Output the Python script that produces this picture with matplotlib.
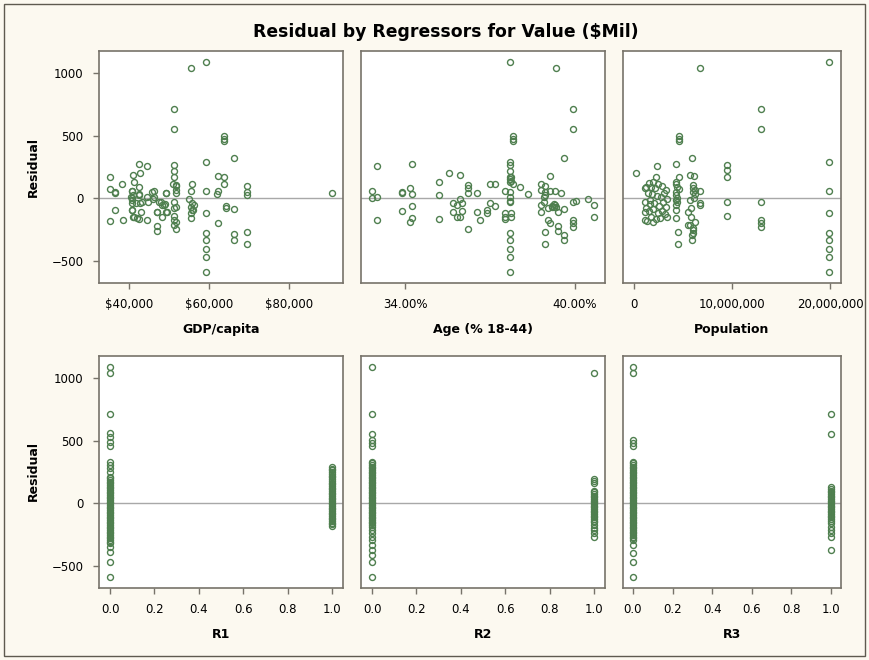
import matplotlib.pyplot as plt
from matplotlib.patches import Rectangle
from matplotlib.ticker import FuncFormatter

# GDP/capita ($) vs residual
gdp = [59200, 55400, 51300, 51300, 63700, 63700, 63700, 66300, 59200, 42400, 44500, 51300, 51300, 51300,
       35300, 41100, 42800, 62300, 63700, 63700, 41300, 38300, 35300, 36500, 36600, 42400, 40700, 41100,
       42600, 46200, 49300, 50900, 51800, 51800, 51800, 55800, 55500, 59200, 62300, 61900, 69500, 69500,
       69500, 90800, 44400, 40700, 40700, 42800, 44700, 46100, 47600, 48200, 49000, 51300, 51300, 51800,
       55000, 55700, 55500, 56100, 55500, 55500, 64300, 64300, 66300, 59200, 36500, 40700, 43000, 46900,
       49300, 48200, 41100, 42400, 44500, 51300, 51300, 51800, 51300, 51800, 35300, 38600, 62300, 46900,
       46900, 59200, 59200, 59200, 59200, 59200, 66300, 66300, 69500, 69500,
       40800, 41700, 40800, 41300, 42100, 42500, 43300, 45800, 46300, 47100, 47900, 48800, 49200, 49600,
       51700, 55800, 56300, 40400, 40700]
gdp_res = [1085, 1043, 712, 549, 496, 475, 459, 320, 285, 275, 253, 261, 219, 171,
           165, 187, 197, 176, 165, 109, 128, 109, 75, 51, 40, 88, 56, 24,
           32, 56, 40, 112, 96, 64, 37, 109, 59, 53, 59, 32, 99, 51,
           24, 43, 11, -2, -43, -43, -29, -11, -29, -56, -48, -35, -83, -69,
           -11, -43, -69, -96, -123, -163, -61, -83, -88, -120, -99, -99, -109, -109,
           -109, -155, -155, -165, -176, -141, -179, -189, -216, -251, -187, -176, -197, -221,
           -264, -283, -339, -408, -472, -595, -291, -339, -275, -371,
           -16, -43, -96, -149, -163, 24, -29, 51, 11, -109, -29, -56, 37, -109,
           104, -96, -56, 11, 59]

# Age (% 18-44) vs residual
age = [37.72, 39.32, 39.94, 39.94, 37.81, 37.81, 37.81, 39.60, 37.72, 33.02, 34.24, 35.54, 35.93, 35.20,
       37.72, 37.72, 37.72, 37.76, 39.13, 32.83, 32.83, 33.02, 33.89, 33.89, 34.19, 34.25, 35.20, 36.21,
       36.21, 36.21, 36.56, 37.01, 37.18, 37.53, 37.72, 37.72, 37.81, 38.06, 38.34, 38.79, 38.94, 38.79,
       38.94, 38.94, 39.13, 39.30, 39.52, 38.89, 38.89, 40.47, 40.04, 39.94, 40.67, 40.67, 35.68, 35.82,
       36.02, 35.94, 35.68, 36.02, 35.82, 35.94, 36.56, 36.65, 36.91, 36.91, 36.99, 37.19, 36.22, 37.53,
       37.53, 37.53, 37.76, 37.76, 37.72, 37.72, 33.89, 34.25, 34.25, 34.19, 33.02, 35.20, 37.72, 37.72,
       37.72, 37.72, 37.72, 38.79, 38.79, 39.06, 39.27, 39.34, 39.41, 39.60, 39.06, 39.13, 39.41, 39.41,
       39.60, 39.60, 38.93, 38.93, 39.94, 39.94, 39.94,
       39.20, 39.25, 39.30, 39.20, 37.72, 37.75, 37.70]
age_res = [1085, 1043, 712, 549, 496, 475, 459, 320, 285, 253, 275, 197, 187, 131,
           261, 219, 171, 165, 176, 59, 3, 11, 51, 43, 77, 32, 21, 104,
           77, 43, 43, 109, 109, 59, 51, 11, 109, 88, 32, 109, 96, 64,
           51, 24, 59, 59, 43, 11, -29, -11, -24, -35, -56, -155, -43, -56,
           -43, -11, -109, -101, -155, -155, -109, -176, -96, -123, -43, -64, -251, -123,
           -149, -168, -123, -149, -35, -24, -101, -64, -163, -189, -176, -168, -283, -339,
           -408, -472, -595, -56, -112, -83, -48, -69, -115, -91, -176, -197, -221, -264,
           -296, -339, -275, -371, -176, -197, -229,
           -60, -70, -55, -75, 150, 140, 130]

# Population (millions) vs residual
pop = [19.83, 6.70, 12.99, 12.99, 4.59, 4.59, 4.59, 5.88, 19.83, 2.38, 4.32, 0.27, 9.49, 9.49,
       9.49, 5.71, 6.16, 4.59, 19.83, 9.49, 9.49, 12.99, 12.99, 12.99, 12.99, 19.83, 19.83, 19.83,
       19.83, 19.83, 19.83, 4.49, 4.49, 5.88, 5.88, 5.70, 6.00,
       2.21, 1.26, 1.09, 1.60, 1.09, 1.26, 1.09, 1.09, 3.30, 4.40, 4.32, 4.32, 4.32, 4.32, 4.32, 4.32,
       6.00, 6.00, 6.00, 6.20, 6.70, 6.76, 6.76, 5.68, 5.85, 5.50, 5.85, 6.20, 5.50, 6.00, 6.00,
       1.5, 2.0, 2.5, 1.8, 2.2, 2.9, 3.1, 1.4, 1.9, 2.4, 2.8, 3.4, 1.6, 2.1, 2.6, 3.0, 3.3, 1.5,
       2.0, 2.5, 2.9, 3.2, 1.8, 2.3, 2.7, 3.4, 1.3, 2.0, 4.3, 4.3, 4.4, 4.4, 4.6, 6.1, 6.2]
pop_res = [1085, 1043, 712, 549, 496, 475, 459, 320, 285, 253, 275, 197, 264, 224,
           165, 187, 176, 165, 56, -35, -144, -35, -176, -197, -229, -123, -283, -339,
           -408, -472, -595, -275, -371, -296, -339, -216, -256,
           171, 91, 77, -16, -29, -83, -109, -176, 64, 91, 51, 24, -16, -56, -96, -163,
           104, 77, 51, 64, 59, -43, -56, -16, -83, -109, -149, -189, -216, -243, -283,
           120, 130, 110, 90, 80, 100, 40, 40, 30, 20, 10, -10, -50, -40, -60, -30, -70, -100,
           -90, -120, -100, -130, -150, -170, -160, -150, -180, -190, 130, 110, 0, -30, 70, 0, 30]

# indicator regressors: residuals of observations with R = 0 and R = 1
r1_at0 = [1085, 1043, 712, 557, 525, 491, 456, 331, 304, 277, 251,
          211, 197, 184, 171, 157, 144, 131, 117, 104, 91, 77, 64, 51, 37, 24, 11, -3, -16, -29,
          -43, -56, -69, -83, -96, -109, -123, -136, -149, -163, -176, -189, -203, -216, -229,
          -243, -256, -269, -283, -296, -309, -323, -349, -389, -469, -589]
r1_at1 = [285, 275, 261, 248, 235, 219, 205, 192, 176, 163, 150, 136, 123, 109, 96, 83, 69, 56,
          43, 29, 16, 3, -11, -24, -37, -51, -64, -77, -91, -104, -117, -131, -144, -157, -171, -184]
r2_at0 = [1085, 712, 552, 504, 477, 456,
          331, 318, 304, 291, 277, 264, 251, 237, 224, 211, 197, 184, 171, 157, 144, 131, 117, 104,
          91, 77, 64, 51, 37, 24, 11, -3, -16, -29, -43, -56, -69, -83, -96, -109, -123, -136, -149,
          -163, -176, -189, -216, -243, -269, -296, -336, -376, -416, -469, -589]
r2_at1 = [1043, 189, 176, 163, 99, 85, 72, 59, 45, 32, 19, 5, -8, -21, -35, -48, -61, -75, -88,
          -101, -115, -128, -141, -155, -176, -197, -216, -243, -269]
r3_at0 = [1085, 1043, 504, 477, 456,
          331, 318, 304, 291, 277, 264, 251, 237, 224, 211, 197, 184, 171, 157, 144, 131, 117, 104,
          91, 77, 64, 51, 37, 24, 11, -3, -16, -29, -43, -56, -69, -83, -96, -109, -123, -136, -149,
          -163, -176, -189, -203, -216, -229, -243, -256, -269, -283, -296, -336, -403, -469, -589]
r3_at1 = [712, 549, 125, 112, 99, 85, 72, 59, 45, 32, 19, 5, -8, -21, -35, -48, -61, -75, -88,
          -101, -115, -128, -141, -163, -189, -216, -243, -269, -376]

top_xlabels = ['GDP/capita', 'Age (% 18-44)', 'Population']
bottom_xlabels = ['R1', 'R2', 'R3']

bg = '#FCF9F0'
green = '#4F7F4F'
frame = '#77736A'

plt.rcParams['font.family'] = ['DejaVu Sans']

fig = plt.figure(figsize=(8.69, 6.60), dpi=100, facecolor=bg)
fig.patches.append(Rectangle((4 / 869, 4 / 660), 861 / 869, 652 / 660, transform=fig.transFigure,
                             fill=False, edgecolor='#5E5A50', linewidth=1.0))

lefts = [99 / 869, 361 / 869, 623 / 869]
widths = [244 / 869, 244 / 869, 218 / 869]
row_bottoms = [1 - 283 / 660, 1 - 588 / 660]
row_height = 232 / 660


def style(ax, first_col):
    ax.set_facecolor('white')
    for s in ax.spines.values():
        s.set_color(frame)
        s.set_linewidth(1.2)
    ax.axhline(0, color='#A8A8A8', linewidth=1.0, zorder=1)
    ax.set_ylim(-680, 1177)
    ax.tick_params(direction='out', length=4.5, width=1.0, color=frame, labelsize=8.5, pad=6.5)
    if first_col:
        ax.set_yticks([-500, 0, 500, 1000])
    else:
        ax.set_yticks([])


top_x = [gdp, age, pop]
top_y = [gdp_res, age_res, pop_res]
top_lims = [(32500, 93500), (32.45, 41.06), (-1.1, 21.1)]
top_ticks = [[40000, 60000, 80000], [34, 40], [0, 10, 20]]
top_fmt = [lambda v, p: '${:,.0f}'.format(v),
           lambda v, p: '{:.2f}%'.format(v),
           lambda v, p: '{:,.0f}'.format(v * 1e6)]

for i in range(3):
    ax = fig.add_axes([lefts[i], row_bottoms[0], widths[i], row_height])
    style(ax, i == 0)
    ax.plot(top_x[i], top_y[i], 'o', markerfacecolor='none', markeredgecolor=green,
            markersize=4.3, markeredgewidth=1.0, zorder=3)
    ax.set_xlim(*top_lims[i])
    ax.set_xticks(top_ticks[i])
    ax.xaxis.set_major_formatter(FuncFormatter(top_fmt[i]))
    ax.set_xlabel(top_xlabels[i], fontsize=9, fontweight='bold', labelpad=8.5)

bottom_sets = [(r1_at0, r1_at1), (r2_at0, r2_at1), (r3_at0, r3_at1)]
for i in range(3):
    ax = fig.add_axes([lefts[i], row_bottoms[1], widths[i], row_height])
    style(ax, i == 0)
    at0, at1 = bottom_sets[i]
    ax.plot([0.0] * len(at0), at0, 'o', markerfacecolor='none', markeredgecolor=green,
            markersize=4.3, markeredgewidth=1.0, zorder=3)
    ax.plot([1.0] * len(at1), at1, 'o', markerfacecolor='none', markeredgecolor=green,
            markersize=4.3, markeredgewidth=1.0, zorder=3)
    ax.set_xlim(-0.05, 1.05)
    ax.set_xticks([0, 0.2, 0.4, 0.6, 0.8, 1.0])
    ax.xaxis.set_major_formatter(FuncFormatter(lambda v, p: '{:.1f}'.format(v)))
    ax.set_xlabel(bottom_xlabels[i], fontsize=9, fontweight='bold', labelpad=8.5)

fig.text(33 / 869, 1 - 167 / 660, 'Residual', rotation=90, ha='center', va='center',
         fontsize=9, fontweight='bold')
fig.text(33 / 869, 1 - 471 / 660, 'Residual', rotation=90, ha='center', va='center',
         fontsize=9, fontweight='bold')
fig.text(446 / 869, 1 - 32 / 660, 'Residual by Regressors for Value ($Mil)', ha='center',
         va='center', fontsize=12.4, fontweight='bold')

fig.savefig('out.png', dpi=100, facecolor=bg)
